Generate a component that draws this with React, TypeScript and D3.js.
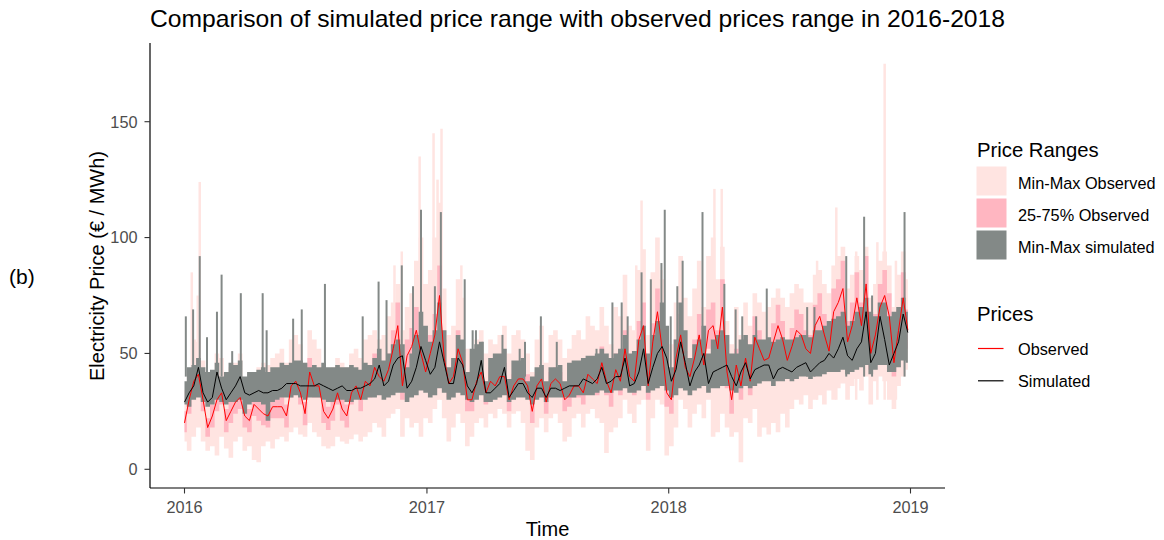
import React from "react";
import * as d3 from "d3";

// ---------- data (weekly, starting 2016-01-01) ----------
const START = "2016-01-01";

const simulated = [
  29, 33, 36, 44, 33, 29, 31, 42, 35, 30,
  33, 36, 40, 33, 32, 33, 34, 33, 33, 34,
  34, 35, 37, 37, 37, 36, 36, 36, 36,
  37, 36, 35, 34, 35, 36, 34, 34, 35, 35,
  36, 37, 39, 45, 36, 38, 45, 48, 49, 35,
  38, 44, 53, 47, 41, 44, 55, 46, 37, 37,
  48, 45, 36, 33, 37, 47, 33, 33, 35, 37,
  44, 31, 34, 37, 37, 33, 31, 35, 35,
  31, 35, 35, 34, 35, 36, 36, 36, 39, 38,
  37, 39, 44, 37, 38, 40, 40, 48, 36, 37,
  42, 52, 37, 44, 50, 53, 48, 38, 43, 55,
  46, 36, 42, 45, 50, 37, 42, 43, 44, 45,
  40, 36, 42, 46, 39, 43, 44, 45, 45, 39,
  43, 44, 43, 42, 44, 45, 46, 42, 44,
  46, 47, 50, 48, 52, 57, 49, 47, 52, 55,
  68, 46, 50, 66, 56, 45, 50, 55, 67, 59,
];

const observed = [
  20, 30, 38, 41, 30, 18, 23, 30, 33, 21,
  25, 29, 31, 23, 21, 28, 26, 24, 23, 27,
  27, 27, 23, 36, 38, 33, 24, 42, 36,
  36, 25, 22, 26, 33, 26, 23, 33, 36, 30,
  38, 36, 44, 40, 38, 43, 52, 62, 36, 49,
  53, 60, 50, 42, 50, 58, 75, 48, 37, 40,
  52, 46, 30, 30, 38, 42, 33, 38, 36, 40,
  40, 30, 36, 39, 39, 36, 25, 36, 39,
  29, 37, 39, 37, 30, 32, 36, 36, 33, 41,
  39, 37, 46, 38, 33, 43, 38, 52, 40, 38,
  56, 62, 36, 55, 68, 52, 33, 30, 48, 58,
  44, 40, 48, 58, 45, 60, 62, 52, 70, 42,
  30, 45, 36, 48, 38, 57, 52, 47, 48, 55,
  62, 56, 47, 53, 60, 58, 52, 50, 62,
  66, 58, 51, 68, 72, 78, 55, 62, 74, 62,
  80, 50, 58, 70, 75, 66, 46, 60, 74, 60,
];

const simMin = [
  28, 27, 30, 31, 29, 27, 28, 30, 29, 28,
  29, 29, 30, 24, 28, 29, 29, 28, 21, 29,
  30, 31, 31, 31, 32, 31, 30, 31, 31,
  31, 30, 29, 29, 30, 30, 29, 29, 30, 30,
  30, 31, 31, 32, 30, 31, 32, 33, 33, 29,
  31, 32, 34, 33, 31, 32, 35, 33, 30, 31,
  33, 32, 30, 29, 30, 32, 29, 29, 30, 31,
  32, 29, 30, 31, 31, 30, 28, 30, 31,
  29, 31, 31, 31, 31, 31, 31, 32, 32, 32,
  32, 33, 34, 33, 33, 34, 34, 35, 33, 33,
  34, 36, 33, 34, 35, 36, 34, 31, 32, 35,
  34, 32, 34, 35, 36, 33, 35, 35, 36, 36,
  34, 33, 35, 36, 35, 36, 37, 38, 38, 36,
  38, 38, 39, 38, 39, 40, 40, 39, 40,
  40, 41, 42, 42, 42, 43, 41, 42, 43, 44,
  45, 41, 43, 45, 45, 42, 42, 44, 47, 46,
];

const simMax = [
  38, 44, 45, 48, 44, 42, 43, 46, 40, 42,
  46, 45, 47, 40, 42, 42, 43, 44, 42, 44,
  44, 46, 45, 46, 47, 47, 46, 44, 45,
  44, 46, 44, 44, 45, 44, 44, 45, 44, 43,
  46, 45, 48, 52, 47, 50, 54, 56, 54, 44,
  50, 58, 68, 62, 55, 60, 72, 60, 44, 48,
  58, 56, 42, 52, 54, 55, 38, 48, 50, 50,
  52, 39, 47, 47, 48, 38, 40, 44, 45,
  38, 44, 44, 45, 38, 46, 47, 47, 48, 49,
  49, 50, 52, 50, 48, 50, 52, 58, 50, 51,
  56, 62, 50, 58, 64, 72, 62, 44, 56, 72,
  60, 48, 54, 56, 62, 50, 56, 58, 60, 58,
  50, 50, 56, 58, 54, 58, 56, 56, 57, 55,
  56, 57, 56, 56, 57, 58, 58, 57, 60,
  60, 62, 64, 65, 66, 68, 62, 64, 68, 70,
  74, 68, 66, 72, 72, 66, 68, 70, 74, 68,
];

const obsMin = [
  12, 8, 14, 18, 12, 8, 10, 6, 14, 9,
  5, 12, 14, 8, 10, 4, 3, 10, 12, 9,
  13, 14, 12, 16, 18, 15, 14, 20, 16,
  14, 10, 9, 10, 14, 12, 11, 13, 15, 12,
  14, 16, 20, 18, 14, 22, 24, 26, 14, 22,
  18, 20, 14, 22, 20, 26, 30, 22, 12, 18,
  24, 20, 10, 14, 20, 22, 18, 24, 22, 26,
  24, 18, 24, 25, 20, 8, 4, 18, 22,
  16, 22, 24, 20, 12, 14, 22, 24, 18, 24,
  26, 22, 20, 7, 16, 18, 22, 30, 24, 20,
  28, 30, 8, 22, 30, 28, 6, 10, 18, 30,
  26, 18, 24, 28, 22, 30, 14, 16, 24, 18,
  14, 16, 3, 22, 20, 26, 14, 18, 15, 20,
  16, 24, 18, 26, 30, 28, 32, 26, 30,
  32, 28, 34, 30, 35, 37, 30, 36, 39, 34,
  40, 28, 38, 40, 38, 30, 26, 36, 40, 43,
];

const obsMax = [
  34, 42, 56, 55, 47, 38, 42, 50, 48, 40,
  44, 46, 50, 38, 42, 40, 44, 46, 45, 48,
  50, 52, 46, 56, 58, 54, 46, 60, 56,
  52, 44, 42, 44, 48, 46, 44, 50, 52, 48,
  56, 58, 60, 56, 58, 66, 72, 80, 60, 70,
  76, 90, 100, 80, 86, 100, 115, 78, 58, 62,
  82, 74, 52, 50, 56, 60, 50, 56, 54, 58,
  62, 50, 58, 60, 56, 50, 42, 56, 62,
  46, 58, 60, 56, 48, 52, 58, 60, 56, 66,
  62, 60, 70, 62, 54, 70, 66, 84, 62, 60,
  86, 95, 58, 85, 100, 82, 56, 54, 72, 92,
  74, 66, 78, 90, 70, 92, 100, 82, 96, 64,
  54, 70, 58, 72, 62, 76, 72, 68, 70, 74,
  78, 74, 70, 76, 80, 78, 72, 72, 84,
  86, 80, 76, 88, 92, 96, 78, 84, 92, 86,
  96, 74, 80, 90, 94, 88, 70, 84, 94, 82,
];

const obsQ25 = [
  16, 24, 32, 35, 25, 14, 18, 25, 28, 16,
  20, 24, 26, 18, 16, 23, 21, 19, 18, 22,
  22, 22, 18, 31, 33, 28, 19, 36, 31,
  31, 20, 17, 21, 28, 21, 18, 28, 31, 25,
  33, 31, 38, 34, 32, 37, 45, 53, 30, 42,
  46, 52, 43, 36, 43, 50, 64, 41, 31, 34,
  45, 39, 25, 25, 32, 36, 28, 33, 31, 34,
  34, 25, 31, 34, 33, 31, 20, 31, 34,
  24, 32, 34, 32, 25, 27, 31, 31, 28, 35,
  34, 32, 40, 32, 27, 37, 32, 45, 34, 32,
  48, 54, 30, 47, 58, 45, 27, 24, 41, 50,
  37, 34, 41, 50, 38, 52, 53, 45, 60, 35,
  24, 38, 30, 41, 32, 49, 45, 40, 41, 47,
  54, 48, 40, 46, 52, 50, 45, 43, 54,
  57, 50, 44, 59, 62, 67, 47, 53, 64, 53,
  69, 43, 50, 60, 65, 57, 40, 52, 64, 52,
];

const obsQ75 = [
  25, 35, 44, 47, 35, 22, 28, 36, 38, 26,
  30, 34, 36, 28, 26, 33, 31, 29, 28, 32,
  32, 32, 28, 41, 44, 38, 29, 48, 41,
  41, 30, 27, 31, 38, 31, 28, 38, 41, 35,
  44, 42, 50, 46, 44, 50, 60, 72, 42, 56,
  61, 70, 58, 48, 58, 67, 88, 56, 43, 46,
  60, 53, 35, 35, 44, 48, 38, 44, 41, 46,
  46, 35, 41, 44, 45, 41, 30, 41, 44,
  34, 42, 44, 42, 35, 37, 41, 41, 38, 47,
  45, 42, 53, 44, 39, 50, 44, 60, 46, 44,
  64, 72, 42, 63, 78, 60, 39, 36, 56, 67,
  51, 46, 56, 67, 52, 69, 72, 60, 82, 49,
  36, 52, 42, 56, 44, 66, 60, 54, 56, 63,
  71, 64, 54, 61, 69, 67, 60, 58, 71,
  76, 67, 59, 78, 82, 90, 64, 72, 85, 72,
  92, 58, 67, 80, 86, 76, 53, 69, 85, 69,
];

// daily extremes of the simulated range
const simSpikeDates = [
  "2016-01-03", "2016-01-14", "2016-01-24", "2016-02-04", "2016-02-19", "2016-02-26",
  "2016-03-13", "2016-03-26", "2016-04-28", "2016-05-04", "2016-06-13", "2016-06-26",
  "2016-07-31", "2016-09-26", "2016-10-20", "2016-11-01", "2016-11-24", "2016-12-11",
  "2016-12-23", "2017-01-13", "2017-01-22", "2017-02-27", "2017-03-11", "2017-03-16",
  "2017-03-26", "2017-04-25", "2017-05-21", "2017-05-29", "2017-06-22", "2017-07-16",
  "2017-09-14", "2017-10-08", "2017-10-22", "2017-10-31", "2017-11-21", "2017-12-05",
  "2017-12-21", "2017-12-26", "2018-01-04", "2018-01-14", "2018-01-22", "2018-02-21",
  "2018-03-26", "2018-04-12", "2018-04-22", "2018-05-13", "2018-05-29", "2018-07-29",
  "2018-08-09", "2018-09-26", "2018-10-23", "2018-11-04", "2018-12-23",
];
const simSpikeValues = [
  66, 69, 92, 57, 68, 84,
  51, 76, 76, 60, 65, 69,
  80, 66, 81, 73, 88, 79,
  112, 79, 111, 82, 60, 60,
  55, 58, 52, 55, 66, 55,
  52, 72, 72, 66, 85, 82,
  89, 112, 66, 79, 90, 111,
  80, 69, 66, 66, 78, 70,
  70, 92, 109, 75, 111,
];

// daily extremes of the observed range
const obsSpikeDates = [
  "2016-01-12", "2016-01-21", "2016-01-24", "2016-11-13", "2016-11-24", "2016-12-21",
  "2017-01-11", "2017-01-17", "2017-01-23", "2017-02-22", "2017-11-13", "2017-11-21",
  "2017-12-21", "2018-03-11", "2018-03-22", "2018-08-13", "2018-09-11", "2018-10-11",
  "2018-11-12", "2018-11-23", "2018-12-10",
];
const obsSpikeValues = [
  85, 75, 124, 88, 94, 135,
  145, 125, 147, 88, 88, 116,
  86, 121, 121, 90, 113, 94,
  98, 175, 90,
];

const yTicks = [0, 50, 100, 150];
const xTickDates = ["2016-01-01", "2017-01-01", "2018-01-01", "2019-01-01"];
const xTickLabels = ["2016", "2017", "2018", "2019"];

const rangeLegend = ["Min-Max Observed", "25-75% Observed", "Min-Max simulated"];
const priceLegend = ["Observed", "Simulated"];

// ---------- styles ----------
const FONT = "'Liberation Sans', Arial, sans-serif";
const C_OBS_RANGE = "#FFE4E1";
const C_OBS_IQR = "#FFB6C1";
const C_SIM = "#838987";
const C_OBS = "#FF0000";
const C_SIM_LINE = "#000000";
const rangeColors = [C_OBS_RANGE, C_OBS_IQR, C_SIM];
const priceColors = [C_OBS, C_SIM_LINE];

export default function App() {
  const W = 1164;
  const H = 540;
  const start = new Date(START);
  const dates = simulated.map((_, i) => d3.utcDay.offset(start, 7 * i));

  const x = d3
    .scaleUtc()
    .domain([new Date("2016-01-01"), new Date("2019-01-01")])
    .range([184.5, 910.5]);
  const y = d3.scaleLinear().domain([0, 150]).range([469.3, 121.7]);

  const panel = { left: 150, right: 945, top: 43, bottom: 488 };

  const band = (lo: number[], hi: number[]) =>
    d3
      .area<number>()
      .x((_, i) => x(dates[i]))
      .y0((_, i) => y(lo[i]))
      .y1((_, i) => y(hi[i]))
      .curve(d3.curveStep)(lo) || "";

  const line = (vals: number[]) =>
    d3
      .line<number>()
      .x((_, i) => x(dates[i]))
      .y((d) => y(d))(vals) || "";

  return (
    <svg
      width={W}
      height={H}
      viewBox={`0 0 ${W} ${H}`}
      style={{ position: "absolute", left: 0, top: 0, background: "#fff", fontFamily: FONT }}
    >
      <rect x={0} y={0} width={W} height={H} fill="#fff" />

      {/* title */}
      <text x={150} y={27} fontSize={24} fill="#000" textLength={855} lengthAdjust="spacingAndGlyphs">
        Comparison of simulated price range with observed prices range in 2016-2018
      </text>

      {/* (b) */}
      <text x={9} y={284} fontSize={21} fill="#000">(b)</text>

      {/* observed min-max */}
      <g>
        {obsSpikeDates.map((d, i) => (
          <line
            key={"os" + i}
            x1={x(new Date(d))}
            x2={x(new Date(d))}
            y1={y(30)}
            y2={y(obsSpikeValues[i])}
            stroke={C_OBS_RANGE}
            strokeWidth={2.5}
          />
        ))}
        <path d={band(obsMin, obsMax)} fill={C_OBS_RANGE} />
      </g>

      {/* observed 25-75 */}
      <path d={band(obsQ25, obsQ75)} fill={C_OBS_IQR} />

      {/* simulated min-max */}
      <g>
        {simSpikeDates.map((d, i) => (
          <line
            key={"ss" + i}
            x1={x(new Date(d))}
            x2={x(new Date(d))}
            y1={y(40)}
            y2={y(simSpikeValues[i])}
            stroke={C_SIM}
            strokeWidth={2}
          />
        ))}
        <path d={band(simMin, simMax)} fill={C_SIM} />
      </g>

      {/* lines */}
      <path d={line(observed)} fill="none" stroke={C_OBS} strokeWidth={1} />
      <path d={line(simulated)} fill="none" stroke={C_SIM_LINE} strokeWidth={1} />

      {/* axes */}
      <line x1={panel.left} x2={panel.left} y1={panel.top} y2={panel.bottom} stroke="#000" strokeWidth={1.2} />
      <line x1={panel.left} x2={panel.right} y1={panel.bottom} y2={panel.bottom} stroke="#000" strokeWidth={1.2} />
      {yTicks.map((t) => (
        <g key={"yt" + t}>
          <line x1={panel.left - 5.5} x2={panel.left} y1={y(t)} y2={y(t)} stroke="#333" strokeWidth={1.1} />
          <text x={137.5} y={y(t) + 5.8} fontSize={16.3} fill="#4D4D4D" textAnchor="end">
            {t}
          </text>
        </g>
      ))}
      {xTickDates.map((d, i) => (
        <g key={"xt" + d}>
          <line
            x1={x(new Date(d))}
            x2={x(new Date(d))}
            y1={panel.bottom}
            y2={panel.bottom + 5.5}
            stroke="#333"
            strokeWidth={1.1}
          />
          <text x={x(new Date(d))} y={513} fontSize={16.3} fill="#4D4D4D" textAnchor="middle">
            {xTickLabels[i]}
          </text>
        </g>
      ))}

      {/* axis titles */}
      <text x={(panel.left + panel.right) / 2} y={536} fontSize={20} fill="#000" textAnchor="middle">
        Time
      </text>
      <text
        transform={`translate(104, 266) rotate(-90)`}
        fontSize={20}
        fill="#000"
        textAnchor="middle"
      >
        Electricity Price (€ / MWh)
      </text>

      {/* legend: ranges */}
      <text x={977} y={157} fontSize={20.3} fill="#000">Price Ranges</text>
      {rangeLegend.map((lab, i) => (
        <g key={"rl" + i}>
          <rect x={976.5} y={166.5 + i * 32} width={30} height={29} fill={rangeColors[i]} />
          <text x={1018} y={188.5 + i * 32} fontSize={16.3} fill="#000">
            {lab}
          </text>
        </g>
      ))}

      {/* legend: prices */}
      <text x={977} y={321} fontSize={20.3} fill="#000">Prices</text>
      {priceLegend.map((lab, i) => (
        <g key={"pl" + i}>
          <line x1={978} x2={1003.5} y1={348.5 + i * 32.3} y2={348.5 + i * 32.3} stroke={priceColors[i]} strokeWidth={1.2} />
          <text x={1018} y={355 + i * 32.3} fontSize={16.3} fill="#000">
            {lab}
          </text>
        </g>
      ))}
    </svg>
  );
}
